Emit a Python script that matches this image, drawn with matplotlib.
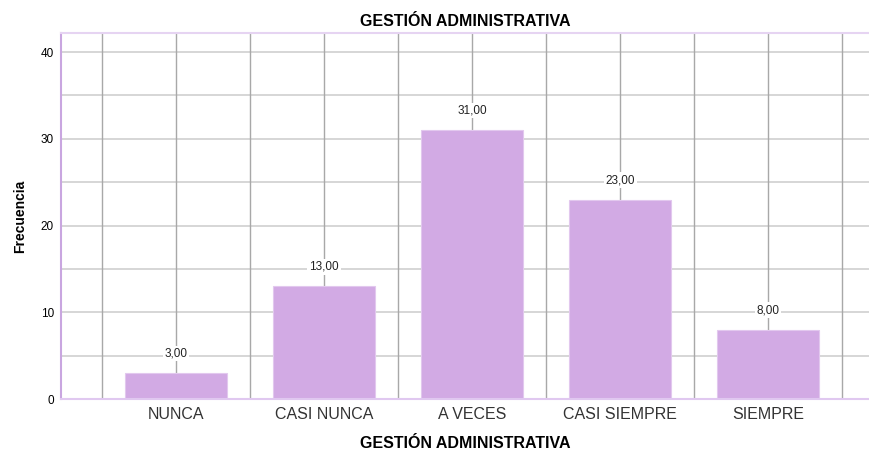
import numpy as np
import matplotlib
matplotlib.use("Agg")
import matplotlib.pyplot as plt

categories = ["NUNCA", "CASI NUNCA", "A VECES", "CASI SIEMPRE", "SIEMPRE"]
counts = [3, 13, 31, 23, 8]
value_labels = ["3,00", "13,00", "31,00", "23,00", "8,00"]

plt.rcParams['font.family'] = ['Liberation Sans', 'DejaVu Sans']

fig = plt.figure(figsize=(8.69, 4.5), dpi=100)
ax = fig.add_axes([0.0702, 0.1133, 0.9298, 0.8134])

x = np.arange(len(categories))
bar_color = '#d2aae4'

# grid: horizontal every 5, vertical at centers and half positions
for yv in range(0, 45, 5):
    ax.axhline(yv, color='#d0d0d0', lw=1.2, zorder=0)
for xv in np.arange(-0.5, len(categories), 0.5):
    ax.axvline(xv, color='#a8a8a8', lw=1.0, zorder=0)

ax.bar(x, counts, width=0.69, color=bar_color, edgecolor='#e2c8ee', linewidth=0.8, zorder=2)

for xi, c, lab in zip(x, counts, value_labels):
    ax.annotate(lab, (xi, c), xytext=(0, 14), textcoords='offset points',
                ha='center', va='center', fontsize=8.5, color='#222222',
                bbox=dict(boxstyle='square,pad=0.15', fc='white', ec='none'), zorder=3)

ax.set_xlim(-0.777, 4.682)
ax.set_ylim(0, 42.2)
ax.set_yticks([0, 10, 20, 30, 40])
ax.set_yticklabels(['0', '10', '20', '30', '40'], fontsize=8.5)
ax.set_xticks(x)
ax.set_xticklabels(categories, fontsize=11.5, color='#333333')
ax.tick_params(axis='both', length=0, pad=6)
ax.tick_params(axis='y', pad=5)

ax.spines['right'].set_visible(False)
ax.spines['left'].set_color('#c9a6e0')
ax.spines['left'].set_linewidth(1.5)
ax.spines['bottom'].set_color('#e0c8f0')
ax.spines['bottom'].set_linewidth(1.5)
ax.spines['top'].set_color('#e6d4f2')
ax.spines['top'].set_linewidth(1.5)

ax.set_xlabel('GESTIÓN ADMINISTRATIVA', fontsize=11.5, fontweight='bold', labelpad=10)
ax.set_ylabel('Frecuencia', fontsize=10, fontweight='bold', labelpad=10)
ax.set_title('GESTIÓN ADMINISTRATIVA', fontsize=11.5, fontweight='bold', pad=5)

fig.savefig('out.png', dpi=100)
